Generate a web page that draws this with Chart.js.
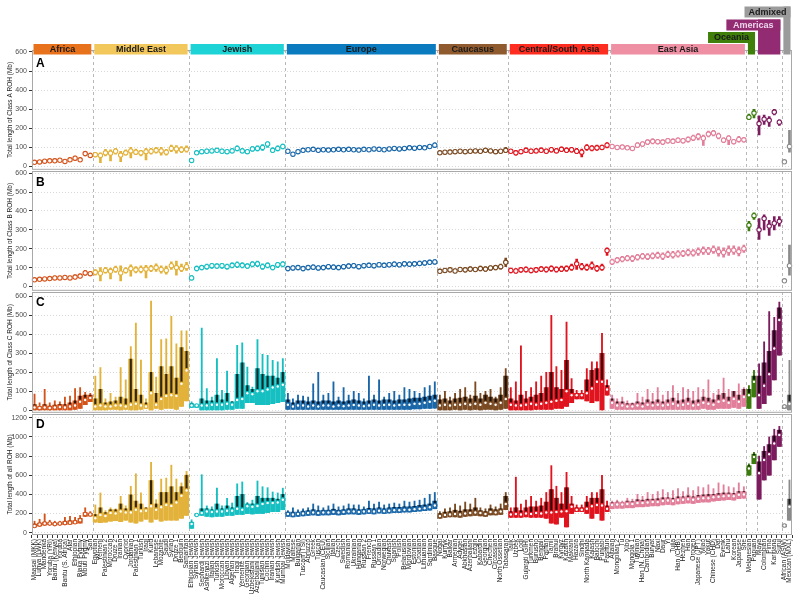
<!DOCTYPE html>
<html>
<head>
<meta charset="utf-8">
<script src="https://cdn.jsdelivr.net/npm/chart.js@4.4.1/dist/chart.umd.min.js"></script>
<style>
body { margin: 0; background: #fff; }
#wrap { position: relative; width: 800px; height: 605px; overflow: hidden; }
#wrap canvas { position: absolute; left: 0; }
</style>
</head>
<body>
<div id="wrap">
  <canvas id="panelA" width="800" height="176" style="top:0px"></canvas>
  <canvas id="panelB" width="800" height="136" style="top:161px"></canvas>
  <canvas id="panelC" width="800" height="137" style="top:282px"></canvas>
  <canvas id="panelD" width="800" height="201" style="top:404px"></canvas>
</div>
<script>
// regions, in plot order
const REGIONS = ['Africa', 'Middle East', 'Jewish', 'Europe', 'Caucasus', 'Central/South Asia', 'East Asia', 'Oceania', 'Americas', 'Admixed'];
const REGION_SIZES = [12, 19, 19, 30, 14, 20, 27, 2, 5, 2];
const STRIP_COLORS = ['#e8721c', '#f2c75c', '#1dd3d6', '#0a7bbf', '#8e5a2e', '#ff2d1f', '#ef8fa3', '#3f7f0a', '#922b71', '#9b9b9b'];
const MARK_COLORS = ['#d4531a', '#e3b23a', '#16bfc1', '#1967a9', '#7a4a22', '#e0141e', '#e27f9a', '#3b7a0c', '#7c1c5e', '#8a8a8a'];

const POPS = [
    'Maasai (MKK)', 'Luhya (LWK)', 'Mandenka', 'Yoruba (YRI)', 'Bantu (Kenya)', 'Yoruba', 'Bantu (S. Africa)', 'Afar', 'Ethiopian', 'Biaka Pygmy', 'Mbuti Pygmy', 'San',
    'Egyptian', 'Yemeni', 'Palestinian 2', 'Moroccan', 'Druze 2', 'Iranian', 'Cypriot', 'Jordanian', 'Palestinian 1', 'Turkish', 'Iraqi', 'Kurd', 'Lebanese', 'Mozabite', 'Saudi', 'Syrian', 'Druze 1', 'Bedouin', 'Samaritan',
    'Ethiopian Jewish', 'Syrian Jewish', 'Sephardi Jewish', 'Ashkenazi Jewish', 'Italian Jewish', 'Turkish Jewish', 'Moroccan Jewish', 'Libyan Jewish', 'Algerian Jewish', 'Iraqi Jewish', 'Yemenite Jewish', 'Georgian Jewish', 'Uzbekistani Jewish', 'Azerbaijani Jewish', 'Tunisian Jewish', 'Cochin Jewish', 'Iranian Jewish', 'Kurdish Jewish', 'Mumbai Jewish',
    'Moldavian', 'Maltese', 'Bulgarian', 'Tuscan (TSI)', 'Abruzzo', 'Greek', 'Tuscan', 'Caucasian (CEU)', 'Sicilian', 'Italian', 'Czech', 'Swedish', 'Romanian', 'Ukrainian', 'Hungarian', 'Russian 2', 'French', 'Russian 1', 'Orcadian', 'Norwegian', 'Chuvash', 'Spanish', 'Polish', 'Belarusian', 'Mordovian', 'Estonian', 'Croatian', 'Lithuanian', 'Sardinian', 'Basque',
    'Nogai', 'Kumyk', 'Balkar', 'Armenian', 'Adygei', 'Abkhasian', 'Azerbaijani', 'Lezgin', 'Kabardin', 'Georgian', 'Chechen', 'Circassian', 'North Ossetian', 'Tabasaran',
    'Tajik', 'Uzbek', 'Lodi', 'Gujarati (GIH)', 'Turkmen', 'Burusho', 'Bengali', 'Pathan', 'Tamil', 'Brahui', 'Kyrgyz', 'Kazakh', 'Makrani', 'Hazara', 'Sindhi', 'North Kannada', 'Kalash', 'Balochi', 'Punjabi', 'Pashtun',
    'Altaian', 'Mongolian 2', 'Tu', 'Xibo', 'Mongola 1', 'Tuvinian', 'Han (N. China)', 'Cambodian', 'Buryat', 'Naxi', 'Daur', 'Yi', 'Tujia', 'Han (CHB)', 'Hezhen', 'Han', 'Oroqen', 'Japanese (JPT)', 'Miao', 'Yakut', 'Chinese (CHD)', 'Dai', 'Evenk', 'Lahu', 'Korean', 'Japanese', 'She',
    'Melanesian', 'Papuan',
    'Maya', 'Colombian', 'Pima', 'Karitiana', 'Surui',
    'African (ASW)', 'Mexican (MXL)'
];

// Panel A: class A ROH (Mb) - low end, median, high end of each violin
const aLo = [15,18,20,22,22,25,20,25,32,28,55,48,
    50,20,55,30,65,25,60,45,62,55,35,65,70,60,60,78,70,72,75,
    25,62,70,70,72,75,70,68,72,82,72,68,80,82,85,100,72,82,92,
    70,55,68,75,78,80,75,78,76,78,80,78,80,78,76,80,78,82,80,78,82,85,82,85,88,86,90,88,95,100,
    62,65,66,68,70,68,70,72,70,75,72,68,70,72,
    70,60,68,72,70,72,75,70,75,72,78,72,75,68,50,85,82,85,88,98,
    95,92,92,88,85,100,105,115,118,118,115,122,120,125,122,128,135,140,110,155,160,145,125,115,118,128,128,
    245,255, 165,220,210,270,215, 20,75];
const aMed = [22,24,28,30,30,33,27,35,44,35,68,58,
    62,58,72,70,80,60,72,82,75,72,78,80,85,82,75,95,92,88,90,
    32,72,78,80,82,85,80,78,82,95,82,78,92,95,100,118,85,95,105,
    80,65,78,85,88,90,85,88,86,88,90,88,90,88,86,90,88,92,90,88,92,95,92,95,98,96,100,98,105,112,
    72,75,76,78,80,78,80,82,80,85,82,78,80,85,
    80,72,78,85,80,82,85,80,88,82,90,85,88,80,75,100,96,98,100,112,
    105,100,102,98,95,112,118,128,132,130,128,135,132,138,135,142,150,158,148,170,175,160,138,148,130,142,140,
    258,280, 225,248,242,285,232, 25,105];
const aHi = [30,32,36,38,40,42,38,46,55,45,80,70,
    75,72,90,88,95,80,88,100,92,85,95,95,100,100,90,112,110,105,108,
    40,82,88,92,92,95,92,88,95,108,95,90,105,108,115,130,98,108,118,
    90,75,88,95,98,100,95,98,96,98,100,98,100,98,96,100,98,102,100,98,102,105,102,105,108,106,110,108,115,124,
    82,85,86,88,90,88,90,92,90,95,92,88,90,100,
    90,85,90,98,92,95,98,92,100,95,102,98,100,95,92,115,110,112,112,125,
    115,110,112,108,105,125,130,140,145,142,140,148,145,150,148,155,165,172,165,185,190,175,150,162,142,158,152,
    275,300, 265,270,262,300,245, 32,190];

// Panel B: class B ROH (Mb)
const bLo = [28,30,32,34,36,36,38,36,40,45,60,58,
    60,30,70,40,75,30,70,55,72,72,45,78,80,70,65,90,60,78,85,
    35,82,88,92,95,95,96,92,98,100,98,95,104,105,90,98,88,100,104,
    83,86,88,83,88,90,86,88,93,90,88,93,96,98,93,98,100,98,103,100,103,106,103,108,106,108,110,113,116,118,
    70,74,76,72,78,76,80,78,82,80,85,88,92,105,
    72,70,75,76,72,75,78,76,80,76,78,80,85,90,88,85,90,80,85,165,
    115,125,130,135,132,140,145,142,146,148,142,152,150,155,158,162,160,165,170,168,175,160,155,165,170,162,180,
    295,355, 250,300,270,300,320, 25,60];
const bMed = [35,38,40,42,45,45,48,45,50,55,72,68,
    75,70,85,80,90,72,85,95,88,90,92,95,100,90,85,110,100,95,105,
    45,95,100,105,110,108,110,105,112,115,112,108,118,120,105,112,100,115,118,
    95,98,100,95,100,102,98,100,105,102,100,105,108,110,105,110,112,110,115,112,115,118,115,120,118,120,122,125,128,130,
    80,85,88,82,90,88,92,90,95,92,98,100,105,128,
    85,82,88,90,85,88,92,90,95,90,92,95,100,120,105,100,110,95,100,190,
    130,140,145,150,148,155,160,158,162,165,160,170,168,172,175,180,178,185,190,188,195,185,180,190,192,185,200,
    325,375, 300,360,320,335,345, 30,110];
const bHi = [42,46,48,50,55,55,58,55,62,65,85,78,
    90,100,102,98,108,110,100,115,105,110,112,112,120,110,108,130,135,118,128,
    58,108,112,118,122,120,122,118,125,130,125,120,132,135,120,125,112,128,132,
    107,110,112,107,112,114,110,112,117,114,112,117,120,122,117,122,124,122,127,124,127,130,127,132,130,132,134,137,140,142,
    92,96,100,94,102,100,104,102,108,104,110,112,118,150,
    98,95,102,104,98,102,106,104,110,104,108,110,118,145,122,118,130,112,118,205,
    145,155,160,165,164,170,175,174,178,182,178,188,186,190,192,198,196,205,210,208,215,210,205,215,215,210,220,
    345,390, 360,380,350,370,370, 38,220];

// Panel C: class C ROH (Mb) - low, median, upper quartile, high
const cLo = [0,0,0,0,0,0,0,0,5,10,30,45,
    0,0,0,5,5,0,5,0,0,5,10,0,10,5,10,10,5,20,50,
    15,15,0,0,0,0,0,5,5,10,10,40,40,30,30,30,35,40,45,
    5,5,5,5,5,5,5,5,5,5,5,5,5,5,5,5,5,5,5,5,5,5,5,5,5,8,8,10,10,12,
    0,0,0,5,0,5,0,5,0,5,5,0,5,10,
    0,0,0,0,0,5,5,5,5,10,10,20,40,60,60,50,40,50,0,80,
    10,5,5,5,5,5,5,5,5,5,5,5,5,5,5,5,5,5,10,5,5,10,10,10,15,10,20,
    10,70, 10,35,80,160,290, 10,0];
const cMed = [15,12,15,12,15,18,15,20,25,45,55,65,
    20,25,20,20,25,25,20,30,35,25,20,90,30,60,75,80,75,140,210,
    25,25,25,25,30,30,30,35,30,55,60,90,85,100,100,110,120,125,135,
    30,20,25,25,20,25,20,25,25,20,25,22,25,28,25,22,25,30,25,28,30,25,28,30,30,35,35,40,45,50,
    25,30,25,30,30,35,30,35,30,40,35,30,40,60,
    30,25,25,30,35,30,35,40,45,50,55,100,80,80,80,90,115,150,150,110,
    40,25,25,20,20,25,20,30,25,30,25,30,35,25,30,35,25,30,40,35,30,45,50,40,60,45,70,
    80,150, 80,130,190,325,475, 20,35];
const cQ3 = [30,20,30,22,28,32,30,40,50,75,80,80,
    60,110,40,45,50,70,60,270,110,80,40,200,90,230,190,230,170,330,310,
    35,30,60,50,50,80,55,90,45,190,250,130,110,220,190,180,180,170,200,
    55,40,50,50,45,50,45,50,50,45,50,45,50,55,50,45,50,55,50,55,55,50,55,55,60,65,65,70,75,80,
    55,60,50,60,65,70,60,75,60,80,70,60,80,180,
    60,50,80,60,70,80,90,120,200,120,110,263,110,90,90,160,210,220,300,130,
    60,45,45,35,35,45,40,55,45,55,45,55,65,50,55,65,50,55,70,65,55,80,90,70,100,80,110,
    110,180, 180,250,310,420,540, 25,80];
const cHi = [85,40,110,40,50,45,70,75,115,120,95,90,
    180,225,60,90,70,225,160,335,460,265,60,575,175,372,377,495,350,418,418,
    45,30,433,115,70,272,105,207,45,342,355,228,122,372,295,290,263,255,272,
    90,60,80,75,70,140,200,80,90,150,70,120,80,100,90,60,180,80,160,70,90,100,80,120,110,100,90,120,130,150,
    80,100,70,90,110,120,80,150,90,100,110,70,120,220,
    120,150,340,100,120,150,180,200,500,230,210,465,167,105,105,220,255,255,405,160,
    80,60,70,50,40,90,70,110,90,120,80,100,130,90,120,110,100,120,110,160,90,110,170,110,100,140,120,
    130,210, 245,360,520,490,570, 30,263];

// Panel D: all ROH (Mb)
const dLo = [60,70,80,85,80,85,85,90,95,100,170,175,
    110,105,110,120,125,115,130,110,100,120,140,110,140,120,130,130,130,150,180,
    45,180,180,170,165,170,170,180,180,190,190,200,195,200,200,210,220,220,240,
    170,165,170,175,180,185,180,185,185,190,185,190,195,195,190,195,200,195,205,200,205,210,210,215,215,220,225,230,235,250,
    150,160,165,165,160,170,175,180,175,170,185,185,190,240,
    160,160,160,165,160,160,160,150,100,90,160,60,200,220,220,200,150,200,130,220,
    250,255,255,260,260,270,270,275,280,280,290,295,290,300,305,310,305,315,320,320,330,335,340,345,340,355,360,
    600,720, 350,550,600,760,900, 60,130];
const dMed = [70,85,95,95,90,95,100,105,110,130,195,190,
    150,185,175,205,200,220,210,210,240,225,230,275,240,265,290,280,315,385,440,
    90,185,205,220,215,220,220,230,230,250,240,275,270,280,300,310,310,315,345,
    195,190,195,200,205,210,205,210,210,215,210,215,220,220,215,220,225,220,230,225,230,235,235,240,240,245,250,255,265,285,
    175,185,190,195,190,200,205,210,205,195,215,210,220,300,
    190,195,190,200,195,205,200,210,210,215,220,225,270,240,240,250,275,290,285,250,
    290,295,295,300,300,310,310,315,320,320,330,335,330,340,345,350,345,355,360,360,370,375,380,385,380,395,400,
    670,790, 620,760,820,930,1020, 75,270];
const dQ3 = [90,100,110,105,100,105,120,125,125,150,210,200,
    190,260,210,240,240,300,250,395,330,300,260,545,300,420,420,480,420,480,600,
    110,190,250,250,240,300,250,280,260,380,400,300,300,380,360,360,360,350,400,
    215,215,215,225,230,240,230,235,235,245,235,240,250,250,240,245,255,250,260,250,260,265,265,270,270,275,285,290,300,330,
    200,215,220,235,225,240,240,260,230,220,250,240,250,380,
    220,260,230,260,270,270,280,320,450,360,300,470,300,260,260,320,360,360,450,280,
    315,320,315,330,325,345,340,350,350,355,365,365,360,375,375,385,375,390,395,400,400,410,415,415,410,430,430,
    700,820, 740,850,920,1010,1070, 85,350];
const dHi = [120,140,195,130,120,120,160,170,160,180,260,220,
    290,415,230,260,250,380,280,485,615,415,255,735,345,560,570,705,560,520,640,
    135,195,605,280,270,465,280,360,310,510,530,315,340,540,480,470,425,415,465,
    230,260,240,250,260,300,280,260,280,300,270,280,300,290,290,270,330,300,320,290,300,310,300,330,320,330,340,360,400,420,
    220,250,260,300,280,320,300,360,260,250,290,270,300,420,
    260,580,300,340,380,330,360,420,700,485,420,630,380,290,290,380,420,420,600,330,
    330,340,330,360,350,400,380,420,400,430,450,420,440,460,430,470,440,480,470,500,460,520,500,480,470,520,480,
    720,840, 800,900,1000,1080,1110, 90,550];

Chart.defaults.font.family = '"Liberation Sans", Arial, sans-serif';

// one colour per population, from its region
const popColors = [];
REGION_SIZES.forEach((n, r) => {
    for (let i = 0; i < n; i++) popColors.push(MARK_COLORS[r]);
});

function halfBand(x) {
    return (x.getPixelForValue(1) - x.getPixelForValue(0)) / 2;
}

// region strips above panel A; the last three are stepped up
function drawStrips(ctx, x) {
    const half = halfBand(x);
    const stepped = {7: {top: 32, w: 47}, 8: {top: 19.5, w: 54}, 9: {top: 6.5, w: 46}};
    ctx.font = 'bold 9px "Liberation Sans", Arial';
    ctx.textAlign = 'center';
    ctx.textBaseline = 'middle';
    let start = 0;
    REGION_SIZES.forEach((n, r) => {
        const x0 = x.getPixelForValue(start) - half + 1.5;
        const x1 = x.getPixelForValue(start + n - 1) + half - 1.5;
        ctx.fillStyle = STRIP_COLORS[r];
        let tx, ty;
        if (stepped[r]) {
            const s = stepped[r];
            ctx.fillRect(x0, s.top, x1 - x0, 54.5 - s.top);
            ctx.fillRect(x1 - s.w, s.top, s.w, 11);
            tx = x1 - s.w / 2;
            ty = s.top + 5.8;
        } else {
            ctx.fillRect(x0, 44, x1 - x0, 10.5);
            tx = (x0 + x1) / 2;
            ty = 49.6;
        }
        ctx.fillStyle = r === 8 ? '#ecd6ec' : '#1a1a1a';
        ctx.fillText(REGIONS[r], tx, ty);
        start += n;
    });
}

const panelDeco = {
    id: 'panelDeco',
    beforeDatasetsDraw(chart, args, o) {
        const {ctx, chartArea: a, scales: {x}} = chart;
        const half = halfBand(x);
        ctx.save();
        ctx.strokeStyle = '#b8b8b8';
        ctx.lineWidth = 1;
        ctx.setLineDash([3, 3]);
        let idx = 0;
        REGION_SIZES.slice(0, -1).forEach(n => {
            idx += n;
            const px = Math.round(x.getPixelForValue(idx) - half) + 0.5;
            ctx.beginPath();
            ctx.moveTo(px, a.top);
            ctx.lineTo(px, a.bottom);
            ctx.stroke();
        });
        ctx.restore();
    },
    afterDraw(chart, args, o) {
        const {ctx, chartArea: a, scales: {x}} = chart;
        ctx.save();
        ctx.strokeStyle = '#a8a8a8';
        ctx.lineWidth = 1;
        ctx.strokeRect(a.left + 0.5, a.top + 0.5, a.width - 1, a.height - 1);
        ctx.fillStyle = '#000';
        ctx.font = 'bold 12px "Liberation Sans", Arial';
        ctx.textAlign = 'left';
        ctx.textBaseline = 'top';
        ctx.fillText(o.letter, a.left + 4, a.top + o.letterTop);
        if (o.strips) drawStrips(ctx, x);
        ctx.restore();
    }
};

function violinSets(lo, med, hi, q3, radius) {
    const sets = [{
        type: 'bar',
        data: lo.map((v, i) => [v, hi[i]]),
        backgroundColor: popColors,
        barThickness: q3 ? 1.2 : 2,
        grouped: false,
        order: 4
    }];
    if (q3) {
        sets.push({
            type: 'bar',
            data: lo.map((v, i) => [v, q3[i]]),
            backgroundColor: popColors,
            barThickness: 4.4,
            grouped: false,
            order: 3
        });
        sets.push({
            type: 'bar',
            data: med.map((v, i) => [v, q3[i]]),
            backgroundColor: 'rgba(0,0,0,0.78)',
            barThickness: 1.5,
            grouped: false,
            order: 2
        });
    }
    sets.push({
        type: 'line',
        data: med,
        showLine: false,
        pointRadius: radius,
        pointBackgroundColor: '#ffffff',
        pointBorderColor: popColors,
        pointBorderWidth: 1.1,
        order: 1
    });
    return sets;
}

function makePanel(id, p) {
    const xAxis = {
        display: p.showX,
        border: {display: false},
        grid: {drawOnChartArea: false, tickLength: 3, tickColor: '#333'},
        ticks: {autoSkip: false, minRotation: 90, maxRotation: 90, padding: 1, color: '#222', font: {size: 6.5}}
    };
    if (p.showX) xAxis.afterFit = s => { s.height = 70; };
    return new Chart(document.getElementById(id), {
        type: 'bar',
        data: {labels: POPS, datasets: p.datasets},
        options: {
            responsive: false,
            animation: false,
            events: [],
            layout: {padding: {top: p.padTop, bottom: p.padBottom, left: 0, right: 8}},
            plugins: {
                legend: {display: false},
                tooltip: {enabled: false},
                panelDeco: {letter: p.letter, letterTop: p.letterTop, strips: p.strips}
            },
            scales: {
                x: xAxis,
                y: {
                    min: p.min,
                    max: p.max,
                    afterFit: s => { s.width = 32; },
                    border: {display: false, dash: [1, 2]},
                    grid: {color: '#d8d8d8', tickColor: '#333', tickLength: 3},
                    ticks: {
                        stepSize: p.step, includeBounds: false, autoSkip: false, padding: 2,
                        color: '#4d4d4d', font: {size: 7},
                        callback: v => String(v)
                    },
                    title: {display: true, text: p.title, color: '#222', font: {size: 6.5}, padding: {top: 6, bottom: 0}}
                }
            }
        },
        plugins: [panelDeco]
    });
}

makePanel('panelA', {
    datasets: violinSets(aLo, aMed, aHi, null, 2.2),
    letter: 'A', letterTop: 8, strips: true,
    padTop: 50, padBottom: 6, showX: false,
    min: -17, max: 610, step: 100,
    title: 'Total length of Class A ROH (Mb)'
});
makePanel('panelB', {
    datasets: violinSets(bLo, bMed, bHi, null, 2.2),
    letter: 'B', letterTop: 6, strips: false,
    padTop: 10, padBottom: 6, showX: false,
    min: -23, max: 612, step: 100,
    title: 'Total length of Class B ROH (Mb)'
});
makePanel('panelC', {
    datasets: violinSets(cLo, cMed, cHi, cQ3, 1.8),
    letter: 'C', letterTop: 5, strips: false,
    padTop: 10, padBottom: 6, showX: false,
    min: -13, max: 623, step: 100,
    title: 'Total length of Class C ROH (Mb)'
});
makePanel('panelD', {
    datasets: violinSets(dLo, dMed, dHi, dQ3, 1.8),
    letter: 'D', letterTop: 5, strips: false,
    padTop: 10, padBottom: 0, showX: true,
    min: -24, max: 1239, step: 200,
    title: 'Total length of all ROH (Mb)'
});
</script>
</body>
</html>
